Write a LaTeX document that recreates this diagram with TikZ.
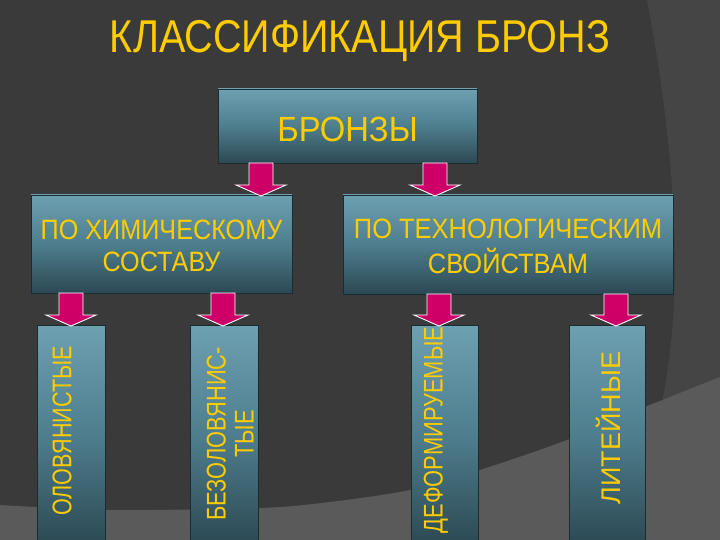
\documentclass[tikz,border=0pt]{standalone}
\usepackage{fontspec}
\setmainfont{Liberation Sans}
\usetikzlibrary{calc}
\definecolor{bgdark}{HTML}{3A3A3A}
\definecolor{bgmid}{HTML}{454545}
\definecolor{bglight}{HTML}{5A5A5A}
\definecolor{boxtop}{HTML}{6DA0B1}
\definecolor{boxmid}{HTML}{4E7E8E}
\definecolor{boxbot}{HTML}{2C4953}
\definecolor{gold}{HTML}{FFCC00}
\definecolor{magentafill}{HTML}{CC0066}
\tikzset{
  panel/.style={draw=boxbot!60!black, line width=0.5pt, top color=boxtop, bottom color=boxbot, middle color=boxmid, inner sep=0pt, outer sep=0pt, rectangle},
  lbl/.style={text=gold, inner sep=0pt, outer sep=0pt, align=center},
  blk/.style={fill=magentafill, draw=white, line width=0.9pt, line join=miter},
}
\newcommand\blkarrow[3]{%
  \draw[blk] let \p1=(#2.south -| #1), \p2=(#3.north -| #1) in
    (\x1-12pt,\y1) -- (\x1+12pt,\y1) -- (\x1+12pt,\y2+10pt) -- (\x1+25pt,\y2+10pt)
    -- (\x1,\y2-1pt) -- (\x1-25pt,\y2+10pt) -- (\x1-12pt,\y2+10pt) -- cycle;}
\begin{document}
\begin{tikzpicture}[x=1pt,y=-1pt]
\useasboundingbox (0,0) rectangle (720,540);
% background
\fill[bgdark] (0,0) rectangle (720,540);
\fill[bgmid] (647,0) .. controls (670,120) and (692,300) .. (655,430) -- (720,430) -- (720,0) -- cycle;
\fill[bglight] plot[smooth] coordinates {(0,505) (110,510) (260,508) (330,502) (410,490) (480,470) (567,440) (645,407) (720,377)} -- (720,540) -- (0,540) -- cycle;
\begin{scope}
\clip (0,0) rectangle (720,540);
% title
\node[lbl, anchor=base, font=\fontsize{46}{50}\selectfont] (title) at (360,53) {\scalebox{0.86}[1]{КЛАССИФИКАЦИЯ БРОНЗ}};
% boxes
\node[panel, minimum width=259pt, minimum height=74pt] (bronzy) at (347.5,126) {};
\node[panel, minimum width=261pt, minimum height=98pt] (chem) at (161.5,244) {};
\node[panel, minimum width=330pt, minimum height=99pt] (tech) at (508,244.5) {};
\node[panel, minimum width=68pt, minimum height=220pt] (tin) at (71,435) {};
\node[panel, minimum width=68pt, minimum height=220pt] (notin) at (224,435) {};
\node[panel, minimum width=67pt, minimum height=220pt] (deform) at (444.5,435) {};
\node[panel, minimum width=76pt, minimum height=220pt] (cast) at (607,435) {};
% labels
\node[lbl, anchor=base, font=\fontsize{35}{38}\selectfont] (tbronzy) at (347.5,142) {\scalebox{0.935}[1]{БРОНЗЫ}};
\node[lbl, font=\fontsize{28}{32}\selectfont] (tchem) at (161.5,249.5) {\scalebox{0.9}[1]{\begin{tabular}{@{}c@{}}ПО ХИМИЧЕСКОМУ\\СОСТАВУ\end{tabular}}};
\node[lbl, font=\fontsize{28}{32}\selectfont] (ttech) at (508,250) {\scalebox{0.91}[1]{\begin{tabular}{@{}c@{}}ПО ТЕХНОЛОГИЧЕСКИМ\\СВОЙСТВАМ\end{tabular}}};
\node[lbl, rotate=90, font=\fontsize{27}{28}\selectfont] (ttin) at (62,431) {\scalebox{0.8}[1]{ОЛОВЯНИСТЫЕ}};
\node[lbl, rotate=90, font=\fontsize{27}{28}\selectfont] (tnotin) at (234,434) {\scalebox{0.81}[1]{\begin{tabular}{@{}c@{}}БЕЗОЛОВЯНИС-\\ТЫЕ\end{tabular}}};
\node[lbl, rotate=90, font=\fontsize{27}{28}\selectfont] (tdeform) at (436,430) {\scalebox{0.81}[1]{ДЕФОРМИРУЕМЫЕ}};
\node[lbl, rotate=90, font=\fontsize{27}{28}\selectfont] (tcast) at (608,428) {ЛИТЕЙНЫЕ};
% arrows
\coordinate (a1) at (261,0);
\coordinate (a2) at (435,0);
\coordinate (a3) at (71,0);
\coordinate (a4) at (223,0);
\coordinate (a5) at (439,0);
\coordinate (a6) at (616,0);
\blkarrow{a1}{bronzy}{chem}
\blkarrow{a2}{bronzy}{tech}
\blkarrow{a3}{chem}{tin}
\blkarrow{a4}{chem}{notin}
\blkarrow{a5}{tech}{deform}
\blkarrow{a6}{tech}{cast}
\end{scope}
\end{tikzpicture}
\end{document}
